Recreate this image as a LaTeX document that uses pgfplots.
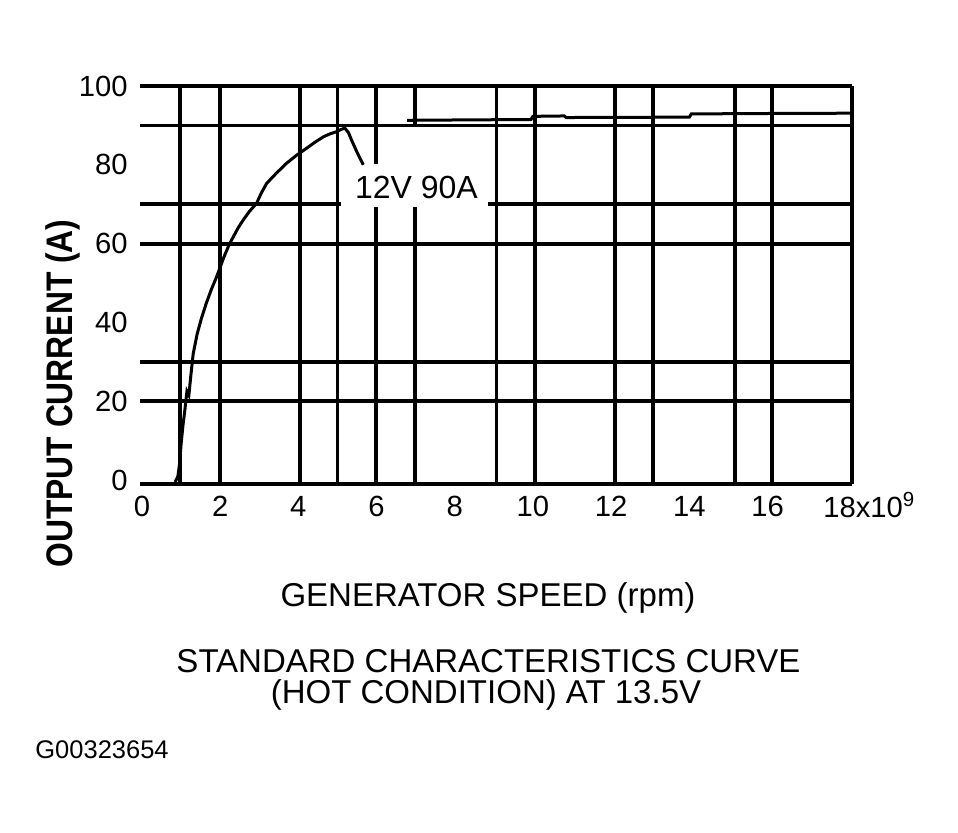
\documentclass[border=0pt]{standalone}
\usepackage{pgfplots}
\pgfplotsset{compat=1.18}
\usepackage{fontspec}
\setmainfont{Liberation Sans}
\newfontfamily\ylabfont[FakeStretch=0.86]{Liberation Sans}

\begin{document}
\begin{tikzpicture}
\path[use as bounding box] (0,0) rectangle (479bp,-416.5bp);
\begin{axis}[
  at={(70bp,-242bp)}, anchor=south west,
  scale only axis, width=356bp, height=199bp,
  xmin=-0.05, xmax=18.16, ymin=-1, ymax=100,
  axis line style={draw=none},
  major tick length=0pt,
  tick style={draw=none},
  xtick={0,2,...,16},
  ytick={0,20,...,100},
  /pgf/number format/assume math mode=true,
  tick label style={font=\fontsize{14.6bp}{17bp}\selectfont},
  xticklabel style={anchor=north, inner sep=0pt, yshift=-6bp},
  yticklabel style={anchor=east, inner sep=0pt, xshift=-6bp},
  extra x ticks={0.97,2.0,4.04,5.0,5.98,6.98,9.07,10.05,12.1,13.08,15.17,16.12,18.16},
  extra x tick labels={},
  extra x tick style={grid=major},
  extra y ticks={-1,20,30,60,70,90,100},
  extra y tick labels={},
  extra y tick style={grid=major},
  grid style={black, line width=1.9bp},
]
% white background behind the curve label
\fill[white] (axis cs:5.08,69.2) rectangle (axis cs:8.85,80.2);
\fill[white] (axis cs:6.8,69.2) rectangle (axis cs:7.2,89.6);
% main curve
\addplot[black, line width=1.5bp] coordinates {
  (0.85,-0.5) (0.92,1) (0.96,4) (1.0,9) (1.05,14) (1.1,18) (1.15,22.5)
  (1.2,21.5) (1.25,26.5) (1.31,32) (1.41,37) (1.52,41) (1.65,45) (1.78,48.5) (1.91,51.6)
  (2.0,54) (2.1,56.7) (2.22,59.5) (2.34,61.8) (2.46,64) (2.59,66) (2.75,68.2)
  (2.93,70.2) (3.05,72.8) (3.19,75.3) (3.45,78) (3.7,80.4) (3.95,82.4)
  (4.21,84.2) (4.42,85.7) (4.64,87.1) (4.82,87.9) (4.98,88.4) (5.1,89.0)
  (5.19,89.3) (5.28,88.2) (5.36,86.3) (5.5,83.2) (5.66,80.0)
};
\addplot[black, line width=1.5bp] coordinates {(5.3,90) (5.9,90)};
\addplot[black, line width=1.5bp] coordinates {
  (6.78,91.3) (9.95,91.5) (10.0,92.3) (10.8,92.4) (10.85,92.0) (14.0,92.1)
  (14.05,92.9) (15.4,93.0) (18.16,93.1)
};
\end{axis}
\node[anchor=base west, inner sep=0pt, font=\fontsize{14.6bp}{17bp}\selectfont] at (411.5bp,-258.5bp) {18x10\textsuperscript{9}};
\node[anchor=base, inner sep=0pt, font=\fontsize{16bp}{19bp}\selectfont] at (208.25bp,-99bp) {12V 90A};
\node[rotate=90, anchor=base, inner sep=0pt, font=\ylabfont\bfseries\fontsize{18.5bp}{22bp}\selectfont] at (36bp,-196.75bp) {OUTPUT CURRENT (A)};
\node[anchor=base, inner sep=0pt, font=\fontsize{16.5bp}{19bp}\selectfont] at (244bp,-303bp) {GENERATOR SPEED (rpm)};
\node[anchor=base, inner sep=0pt, font=\fontsize{16.5bp}{19bp}\selectfont] at (244.25bp,-336bp) {STANDARD CHARACTERISTICS CURVE};
\node[anchor=base, inner sep=0pt, font=\fontsize{16.5bp}{19bp}\selectfont] at (243bp,-351.5bp) {(HOT CONDITION) AT 13.5V};
\node[anchor=base west, inner sep=0pt, font=\fontsize{12.75bp}{15bp}\selectfont] at (17.5bp,-379bp) {G00323654};
\end{tikzpicture}
\end{document}
